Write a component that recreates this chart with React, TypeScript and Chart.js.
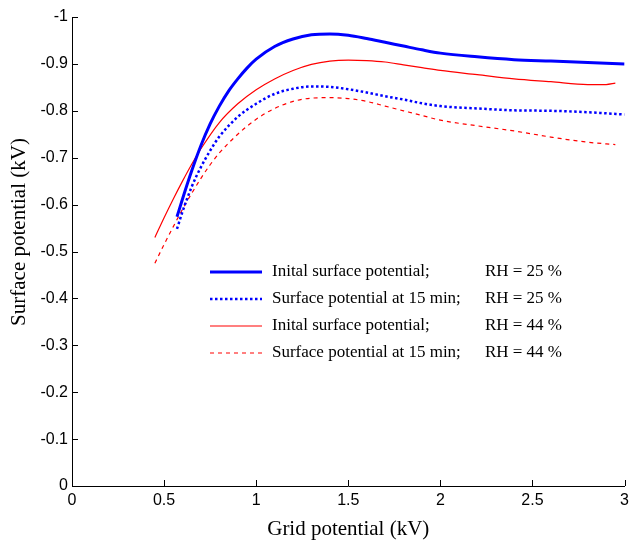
import React, { useEffect, useRef } from "react";
import { Chart, registerables } from "chart.js";

Chart.register(...registerables);

const blueSolidX = [0.57, 0.6, 0.65, 0.7, 0.75, 0.8, 0.85, 0.9, 0.95, 1.0, 1.1, 1.2, 1.3, 1.4, 1.5, 1.6, 1.7, 1.8, 1.9, 2.0, 2.2, 2.4, 2.6, 2.8, 3.0];
const blueSolidY = [-0.574, -0.612, -0.672, -0.726, -0.772, -0.81, -0.842, -0.868, -0.891, -0.91, -0.937, -0.953, -0.962, -0.964, -0.961, -0.954, -0.946, -0.938, -0.93, -0.923, -0.915, -0.909, -0.906, -0.903, -0.9];

const blueDotX = [0.57, 0.6, 0.65, 0.7, 0.75, 0.8, 0.9, 1.0, 1.1, 1.2, 1.3, 1.4, 1.5, 1.6, 1.7, 1.8, 1.9, 2.0, 2.2, 2.4, 2.6, 2.8, 3.0];
const blueDotY = [-0.548, -0.585, -0.638, -0.68, -0.715, -0.745, -0.787, -0.815, -0.836, -0.847, -0.852, -0.851, -0.846, -0.839, -0.831, -0.824, -0.816, -0.81, -0.805, -0.801, -0.8, -0.797, -0.792];

const redSolidX = [0.45, 0.5, 0.55, 0.6, 0.65, 0.7, 0.8, 0.9, 1.0, 1.1, 1.2, 1.3, 1.4, 1.5, 1.6, 1.7, 1.8, 1.9, 2.0, 2.2, 2.4, 2.6, 2.8, 2.9, 2.95];
const redSolidY = [-0.53, -0.572, -0.612, -0.65, -0.686, -0.719, -0.775, -0.815, -0.845, -0.868, -0.886, -0.899, -0.906, -0.908, -0.907, -0.904, -0.898, -0.892, -0.886, -0.877, -0.868, -0.862, -0.856, -0.856, -0.859];

const redDashX = [0.45, 0.5, 0.55, 0.6, 0.65, 0.7, 0.75, 0.8, 0.9, 1.0, 1.1, 1.2, 1.3, 1.4, 1.5, 1.6, 1.7, 1.8, 1.9, 2.0, 2.2, 2.4, 2.6, 2.8, 2.95];
const redDashY = [-0.475, -0.515, -0.553, -0.59, -0.624, -0.656, -0.685, -0.71, -0.75, -0.782, -0.805, -0.82, -0.827, -0.828, -0.826, -0.82, -0.81, -0.8, -0.79, -0.78, -0.768, -0.757, -0.744, -0.733, -0.728];

const legendNames = [
  "Inital surface potential;",
  "Surface potential at 15 min;",
  "Inital surface potential;",
  "Surface potential at 15 min;",
];
const legendRH = ["RH = 25 %", "RH = 25 %", "RH = 44 %", "RH = 44 %"];

const xTitle = "Grid potential (kV)";
const yTitle = "Surface potential (kV)";

const xTicks = [0, 0.5, 1, 1.5, 2, 2.5, 3];
const yTicks = [0, -0.1, -0.2, -0.3, -0.4, -0.5, -0.6, -0.7, -0.8, -0.9, -1];

const toPoints = (xs: number[], ys: number[]) => xs.map((x, i) => ({ x, y: ys[i] }));

const inwardTicks = {
  id: "inwardTicks",
  afterDraw(chart: any) {
    const { ctx, chartArea, scales } = chart;
    ctx.save();
    ctx.strokeStyle = "#000";
    ctx.lineWidth = 1;
    ctx.beginPath();
    xTicks.forEach((v) => {
      const px = Math.round(scales.x.getPixelForValue(v)) + 0.5;
      ctx.moveTo(px, chartArea.bottom);
      ctx.lineTo(px, chartArea.bottom - 6);
    });
    yTicks.forEach((v) => {
      const py = Math.round(scales.y.getPixelForValue(v)) + 0.5;
      ctx.moveTo(chartArea.left, py);
      ctx.lineTo(chartArea.left + 6, py);
    });
    ctx.stroke();
    ctx.restore();
  },
};

const yTitlePlugin = {
  id: "yTitlePlugin",
  afterDraw(chart: any) {
    const { ctx, chartArea } = chart;
    ctx.save();
    ctx.translate(19, chartArea.top + 215);
    ctx.rotate(-Math.PI / 2);
    ctx.fillStyle = "#000";
    ctx.font = "21px 'Liberation Serif', 'Times New Roman', serif";
    ctx.textAlign = "center";
    ctx.textBaseline = "middle";
    ctx.fillText(yTitle, 0, 0);
    ctx.restore();
  },
};

const customLegend = {
  id: "customLegend",
  afterDraw(chart: any) {
    const { ctx, chartArea } = chart;
    const x0 = chartArea.left + 138;
    const lineLen = 52;
    const textX = x0 + lineLen + 10;
    const rhRight = chartArea.left + 490;
    const y0 = chartArea.top + 255;
    const gap = 27;
    ctx.save();
    chart.data.datasets.forEach((ds: any, i: number) => {
      const y = y0 + i * gap;
      ctx.beginPath();
      ctx.strokeStyle = ds.borderColor;
      ctx.lineWidth = ds.borderWidth;
      ctx.setLineDash(ds.borderDash || []);
      ctx.moveTo(x0, y);
      ctx.lineTo(x0 + lineLen, y);
      ctx.stroke();
      ctx.setLineDash([]);
      ctx.fillStyle = "#000";
      ctx.font = "17px 'Liberation Serif', 'Times New Roman', serif";
      ctx.textBaseline = "middle";
      ctx.textAlign = "left";
      ctx.fillText(legendNames[i], textX, y);
      ctx.textAlign = "right";
      ctx.fillText(legendRH[i], rhRight, y);
    });
    ctx.restore();
  },
};

export default function App() {
  const ref = useRef<HTMLCanvasElement | null>(null);

  useEffect(() => {
    document.body.style.margin = "0";
    if (!ref.current) return;
    const chart = new Chart(ref.current, {
      type: "line",
      data: {
        datasets: [
          {
            label: legendNames[0] + " " + legendRH[0],
            data: toPoints(blueSolidX, blueSolidY),
            borderColor: "#0000ff",
            borderWidth: 3,
            pointRadius: 0,
            tension: 0.4,
            cubicInterpolationMode: "monotone",
          },
          {
            label: legendNames[1] + " " + legendRH[1],
            data: toPoints(blueDotX, blueDotY),
            borderColor: "#0000ff",
            borderWidth: 2.5,
            borderDash: [2.5, 2.5],
            pointRadius: 0,
            tension: 0.4,
            cubicInterpolationMode: "monotone",
          },
          {
            label: legendNames[2] + " " + legendRH[2],
            data: toPoints(redSolidX, redSolidY),
            borderColor: "#ff0000",
            borderWidth: 1.2,
            pointRadius: 0,
            tension: 0.4,
            cubicInterpolationMode: "monotone",
          },
          {
            label: legendNames[3] + " " + legendRH[3],
            data: toPoints(redDashX, redDashY),
            borderColor: "#ff0000",
            borderWidth: 1.2,
            borderDash: [4, 4],
            pointRadius: 0,
            tension: 0.4,
            cubicInterpolationMode: "monotone",
          },
        ],
      },
      options: {
        animation: false,
        responsive: false,
        maintainAspectRatio: false,
        layout: { padding: { top: 17, right: 6, bottom: 0, left: 0 } },
        plugins: { legend: { display: false }, tooltip: { enabled: false } },
        scales: {
          x: {
            type: "linear",
            min: 0,
            max: 3,
            afterBuildTicks: (scale: any) => {
              scale.ticks = xTicks.map((v) => ({ value: v }));
            },
            afterFit: (scale: any) => {
              scale.height = 56;
            },
            grid: { display: true, drawOnChartArea: false, drawTicks: false },
            border: { display: true, color: "#000", width: 1 },
            ticks: {
              color: "#000",
              padding: 5,
              maxRotation: 0,
              font: { family: "'Liberation Sans', Arial, sans-serif", size: 16 },
              callback: (v: any) => String(v),
            },
            title: {
              display: true,
              text: xTitle,
              color: "#000",
              padding: { top: 0, bottom: 0 },
              font: { family: "'Liberation Serif', 'Times New Roman', serif", size: 21 },
            },
          },
          y: {
            type: "linear",
            min: -1,
            max: 0,
            reverse: true,
            afterBuildTicks: (scale: any) => {
              scale.ticks = yTicks.map((v) => ({ value: v }));
            },
            afterFit: (scale: any) => {
              scale.width = 72;
            },
            grid: { display: true, drawOnChartArea: false, drawTicks: false },
            border: { display: true, color: "#000", width: 1 },
            ticks: {
              color: "#000",
              padding: 4,
              font: { family: "'Liberation Sans', Arial, sans-serif", size: 16 },
              callback: (v: any) => {
                const n = Number(Number(v).toFixed(1));
                return n === 0 ? "0" : String(n);
              },
            },
            title: { display: false },
          },
        },
      },
      plugins: [inwardTicks, yTitlePlugin, customLegend],
    });
    return () => chart.destroy();
  }, []);

  return (
    <div style={{ width: 634, height: 542, background: "#fff" }}>
      <canvas ref={ref} width={634} height={542} />
    </div>
  );
}
